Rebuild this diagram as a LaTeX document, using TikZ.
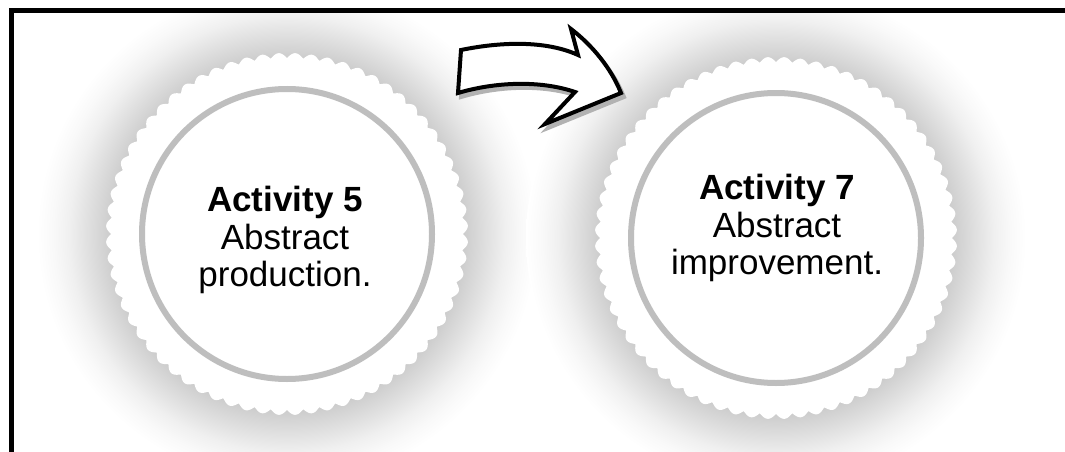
\documentclass[tikz,border=0pt]{standalone}
\usepackage{fontspec}
\setmainfont{Liberation Sans}
\definecolor{glowgray}{RGB}{204,204,204}
\definecolor{ringgray}{RGB}{190,190,190}
\definecolor{shadowgray}{RGB}{178,178,178}
\pgfdeclareradialshading{badgeglow}{\pgfpoint{0bp}{0bp}}{color(0bp)=(glowgray); color(17.6bp)=(glowgray); color(18.8bp)=(glowgray!80!white); color(20.3bp)=(glowgray!55!white); color(21.8bp)=(glowgray!30!white); color(23.4bp)=(glowgray!12!white); color(25bp)=(white); color(50bp)=(white)}

\begin{document}
\begin{tikzpicture}[x=1pt, y=-1pt,
		badge/.style={fill=white, draw=none},
		ring/.style={draw=ringgray, line width=6pt},
		actlabel/.style={align=center, inner sep=0pt, font=\fontsize{35}{37.5}\selectfont},
		bentarrow/.style={fill=white, draw=black, line width=4pt, line join=miter,
			preaction={fill=shadowgray, draw=shadowgray, line width=4pt, transform canvas={shift={(3,4)}}}},
		frame/.style={draw=black, line width=5pt},
		]
		\useasboundingbox (0,0) rectangle (1065,452);
		
		%Centres
		\coordinate (act5) at (287,234);
		\coordinate (act7) at (776,238);
		
		%Glow
		\begin{scope}
			\clip (11,11) rectangle (1065,452);
			\shade[shading=badgeglow] (act5) circle (250);
			\shade[shading=badgeglow] (act7) circle (250);
		\end{scope}
		
		%Badges
		\foreach \cx/\cy in {287/234, 776/238}
		\fill[badge] plot[domain=0:360, samples=1081] ({\cx+(176+5*abs(sin(34*\x)))*cos(\x)}, {\cy+(176+5*abs(sin(34*\x)))*sin(\x)}) -- cycle;
		\draw[ring] (act5) circle (145);
		\draw[ring] (act7) circle (145);
		
		%Nodes
		\node[actlabel] (act5-text) at (285,240) {\textbf{Activity 5}\\Abstract\\production.};
		\node[actlabel] (act7-text) at (777,228) {\textbf{Activity 7}\\Abstract\\improvement.};
		
		%Arrow
		\draw[bentarrow] (461,50) .. controls (500,42) and (545,40) .. (578,55) -- (571,29)
			.. controls (592,45) and (611,68) .. (621,93) -- (545,124) -- (575,92)
			.. controls (540,80) and (495,82) .. (458,93) -- cycle;
		
		%Frame
		\draw[frame] (11,452) -- (11,11) -- (1065,11);
		
	\end{tikzpicture}
\end{document}
